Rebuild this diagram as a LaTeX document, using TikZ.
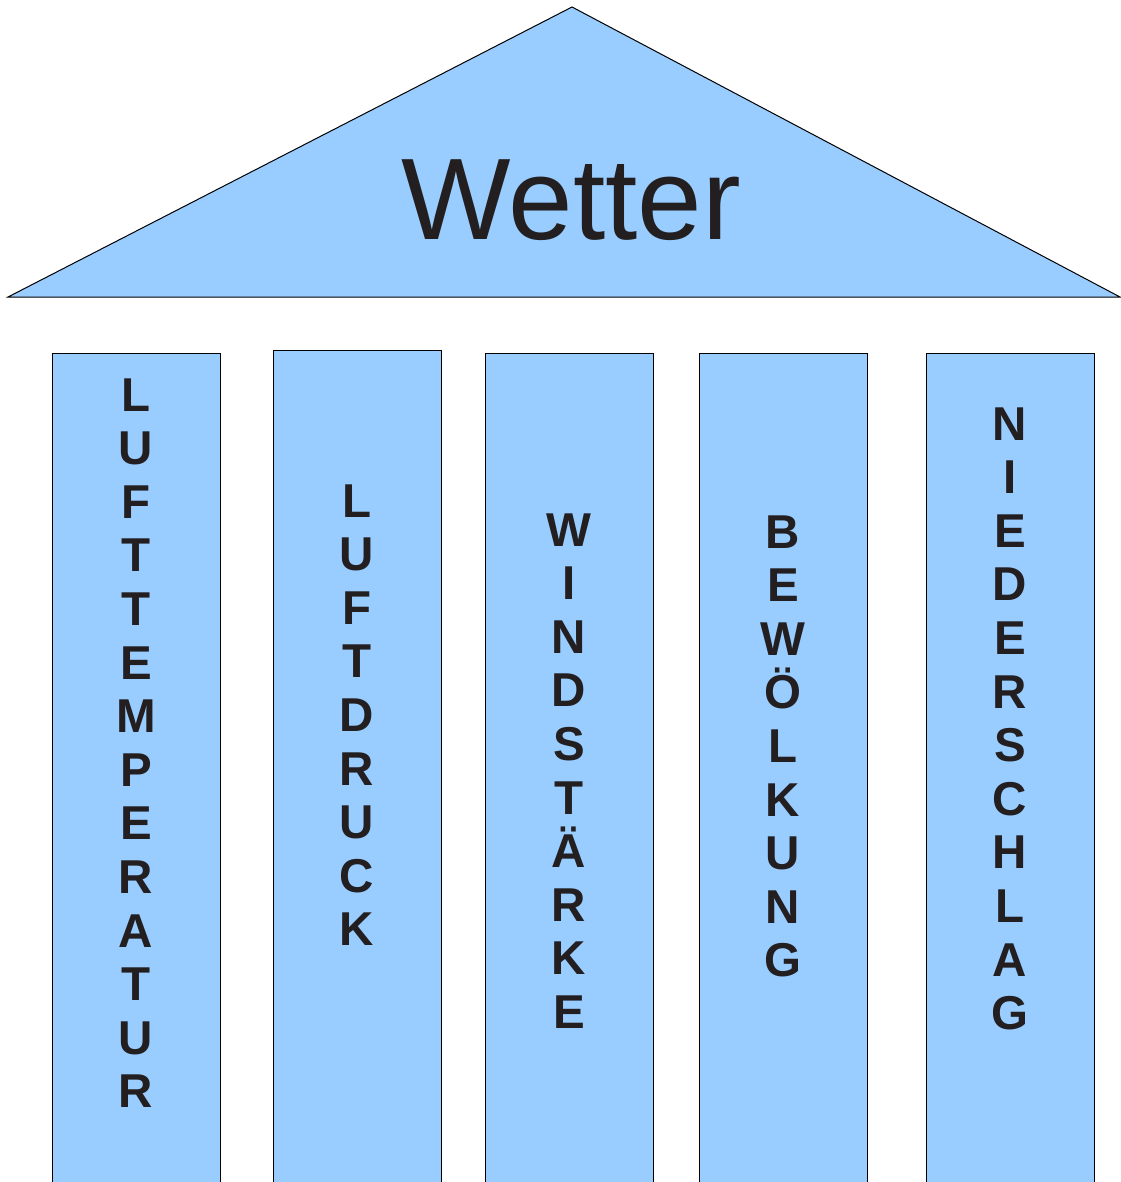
\documentclass[tikz,border=0pt]{standalone}
\usepackage{fontspec}
\setmainfont{Liberation Sans}
\definecolor{pillar}{HTML}{99CCFF}
\definecolor{textdark}{HTML}{231F20}
\newcommand\pillarcol[5]{%
  \node[pillarbox] (#1) at (#2,#3) {};
  \foreach \l [count=\i from 0] in {#5}
    \node[letter] (#1-\i) at ({#2+84},{#4+53.6*\i}) {\l};
}
\begin{document}
\begin{tikzpicture}[x=1pt,y=-1pt,
  pillarbox/.style={draw=black, fill=pillar, line width=1pt, rectangle, inner sep=0pt,
    anchor=north west, minimum width=168pt, minimum height=900pt},
  letter/.style={font=\fontsize{47.5}{47.5}\selectfont\bfseries, anchor=base,
    inner sep=0pt, text=textdark},
  roofline/.style={draw=black, fill=pillar, line width=1pt, line join=miter}]
\useasboundingbox (0,0) rectangle (1120,1182);
\coordinate (roofL) at (8,297);
\coordinate (roofT) at (572,7);
\coordinate (roofR) at (1120,297);
\path[roofline] (roofL) -- (roofT) -- (roofR) -- cycle;
\node[font=\fontsize{116}{116}\selectfont, anchor=base, inner sep=0pt, text=textdark] (wetter) at (571,240) {Wetter};
\pillarcol{c1}{52}{353}{411}{L,U,F,T,T,E,M,P,E,R,A,T,U,R}
\pillarcol{c2}{273}{350}{517}{L,U,F,T,D,R,U,C,K}
\pillarcol{c3}{485}{353}{546}{W,I,N,D,S,T,Ä,R,K,E}
\pillarcol{c4}{699}{353}{548}{B,E,W,Ö,L,K,U,N,G}
\pillarcol{c5}{926}{353}{440}{N,I,E,D,E,R,S,C,H,L,A,G}
\end{tikzpicture}
\end{document}
